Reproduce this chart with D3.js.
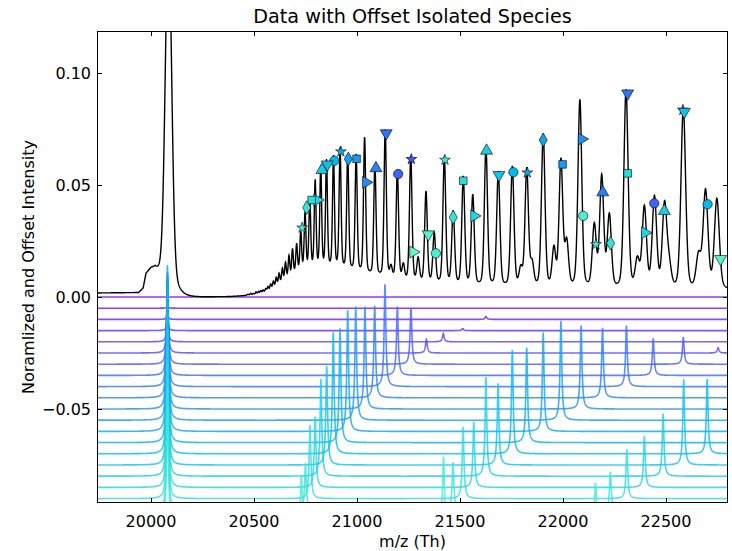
<!DOCTYPE html>
<html><head><meta charset="utf-8">
<script src="https://cdn.jsdelivr.net/npm/d3@7"></script>
<style>
body{margin:0;background:#fff}
text{font-family:"DejaVu Sans",sans-serif;fill:#000}
</style>
</head><body>
<svg id="chart" width="732" height="551"></svg>
<script>
// ---------------- data ----------------
const xTicks = [20000, 20500, 21000, 21500, 22000, 22500];
const yTicks = [0.10, 0.05, 0.00, -0.05];
const xDomain = [19738, 22801];
const yDomain = [-0.09196, 0.11875];

// baseline (valley level) of the measured spectrum: [m/z, intensity]
const dataBaseline = [
  [19738,0.0018],[19940,0.0020],[19962,0.0040],[19976,0.0105],[20000,0.0125],[20020,0.0120],
  [20045,0.0080],[20070,0.0040],[20110,0.0015],[20160,0.0005],[20250,0.0001],[20380,0.0002],
  [20450,0.0006],[20500,0.0010],[20540,0.0016],[20580,0.0030],[20620,0.0055],[20660,0.0080],
  [20700,0.0105],[20730,0.0120],[20760,0.0128],[20800,0.0130],[20900,0.0125],[20980,0.0110],
  [21050,0.0095],[21150,0.0078],[21250,0.0065],[21500,0.0045],[21800,0.0035],[22100,0.0030],
  [22400,0.0022],[22700,0.0022],[22801,0.0030]
];
// dominant off-scale peak near 20085
const bigPeak = [20085, 0.148];
const bigPeakWings = [20085, 0.008];
// measured spectrum peaks: [m/z, apex intensity]
const dataPeaks = [
  [20470,0.0012],[20484,0.0016],[20497,0.0015],[20510,0.0022],[20522,0.0024],[20533,0.0027],
  [20544,0.0030],[20557,0.0036],[20568,0.0045],[20581,0.0056],[20594,0.0068],[20608,0.0085],
  [20622,0.0103],[20638,0.0125],[20653,0.0150],[20670,0.0180],
  [20687,0.0210],[20707,0.0232],[20727,0.0286],[20748,0.0371],[20771,0.0433],[20797,0.0513],
  [20824,0.0576],[20852,0.0603],[20886,0.0621],[20918,0.0656],[20955,0.0629],[20996,0.0629],
  [21037,0.0705],[21087,0.0585],[21137,0.0741],[21165,0.0125],[21196,0.0558],[21225,0.0135],
  [21261,0.0625],[21297,0.0165],[21335,0.0466],[21375,0.0277],[21424,0.0619],[21467,0.0374],
  [21516,0.0530],[21562,0.0448],[21626,0.0664],[21686,0.0552],[21754,0.0575],[21795,0.0113],
  [21824,0.0564],[21850,0.0135],[21904,0.0719],[21956,0.0202],[21990,0.0600],[22018,0.0229],
  [22082,0.0872],[22152,0.0307],[22188,0.0525],[22225,0.0351],[22306,0.0917],[22361,0.0150],
  [22395,0.0388],[22444,0.0433],[22493,0.0396],[22515,0.0120],[22584,0.0838],[22658,0.0170],
  [22692,0.0464],[22747,0.0430]
];

// isolated species: vertical offsets and peaks [m/z, height]
const speciesOffsets = [0,-0.005,-0.010,-0.015,-0.020,-0.025,-0.030,-0.035,-0.040,-0.045,-0.050,
  -0.055,-0.060,-0.065,-0.070,-0.075,-0.080,-0.085,-0.090,-0.095,-0.100];
const speciesPeaks = [
  [],
  [[20080,0.0008]],
  [[20080,0.0020],[21626,0.0013]],
  [[20080,0.0050],[21513,0.0009]],
  [[20080,0.0120],[21419,0.0037]],
  [[20080,0.0240],[21337,0.0061],[22753,0.0024]],
  [[20080,0.0340],[21262,0.0250],[22584,0.0121]],
  [[20080,0.0420],[21196,0.0307],[22438,0.0165]],
  [[20080,0.0480],[21136,0.0457],[22308,0.0272]],
  [[20080,0.0550],[21086,0.0411],[22192,0.0313]],
  [[20080,0.0600],[21039,0.0457],[22088,0.0372]],
  [[20080,0.0660],[20994,0.0507],[21990,0.0444]],
  [[20080,0.0743],[20955,0.0542],[21904,0.0441]],
  [[20080,0.0700],[20918,0.0510],[21824,0.0424]],
  [[20080,0.0700],[20885,0.0542],[21754,0.0463],[22700,0.0334]],
  [[20080,0.0680],[20853,0.0443],[21685,0.0365],[22586,0.0383]],
  [[20080,0.0660],[20825,0.0434],[21626,0.0443],[22486,0.0280]],
  [[20080,0.0620],[20797,0.0316],[21567,0.0293],[22395,0.0230]],
  [[20080,0.0600],[20772,0.0329],[21515,0.0321],[22310,0.0220]],
  [[20080,0.0550],[20750,0.0208],[21466,0.0212],[22230,0.0170]],
  [[20080,0.0500],[20730,0.0205],[21420,0.0287],[22158,0.0170]]
];
// species markers on the data: [species index, m/z, intensity]
const speciesMarkers = [
  [6,21264,0.0615],[6,22582,0.0835],
  [7,21200,0.0549],[7,22443,0.0418],
  [8,21142,0.0731],[8,22314,0.0909],
  [9,21092,0.0575],[9,22193,0.0467],
  [10,21044,0.0512],[10,22091,0.0705],
  [11,20998,0.0617],[11,21998,0.0592],
  [12,20958,0.0616],[12,21904,0.0701],
  [13,20922,0.0649],[13,21827,0.0555],
  [14,20890,0.0608],[14,21759,0.0557],[14,22702,0.0414],
  [15,20856,0.0592],[15,21689,0.0545],[15,22589,0.0827],
  [16,20830,0.0567],[16,21629,0.0653],[16,22492,0.0384],
  [17,20807,0.0433],[17,21569,0.0362],[17,22398,0.0287],
  [18,20780,0.0433],[18,21516,0.0519],[18,22314,0.0552],
  [19,20756,0.0399],[19,21467,0.0356],[19,22231,0.0240],
  [20,20734,0.0309],[20,21427,0.0612],[20,22160,0.0235],
  [21,21383,0.0195],[21,22098,0.0362],
  [22,21346,0.0280],[22,22765,0.0170],
  [24,21273,0.0201]
];

// ---------------- rendering ----------------
const L = 97, R = 728, T = 31, B = 503;
const svg = d3.select("#chart");
const x = d3.scaleLinear().domain(xDomain).range([L, R]);
const y = d3.scaleLinear().domain(yDomain).range([B, T]);
const base = d3.scaleLinear().domain(dataBaseline.map(d => d[0])).range(dataBaseline.map(d => d[1])).clamp(true);
const grid = d3.range(xDomain[0], xDomain[1] + 0.5, 1);

function rainbow(t) { // matplotlib "rainbow" colormap
  const r = Math.abs(2 * t - 0.5), g = Math.sin(Math.PI * t), b = Math.cos(Math.PI * t / 2);
  return d3.rgb(255 * Math.min(1, r), 255 * Math.min(1, g), 255 * Math.min(1, b)).formatHex();
}
const color = k => rainbow(k / 54);
const gauss = (d, s) => Math.exp(-d * d / (2 * s * s));
const lor = (d, g) => 1 / (1 + (d / g) * (d / g));
const sig = mz => Math.max(3.4, 4.85 + (mz - 20920) * 0.0039);

const defs = svg.append("defs");
defs.append("clipPath").attr("id", "plot").append("rect")
  .attr("x", L).attr("y", T).attr("width", R - L).attr("height", B - T);
const plot = svg.append("g").attr("clip-path", "url(#plot)");
const line = d3.line().x(d => x(d[0])).y(d => y(d[1]));

// species traces
speciesPeaks.forEach((peaks, k) => {
  const off = speciesOffsets[k];
  const pts = grid.map(mz => [mz, off + d3.sum(peaks, p => p[1] * lor(mz - p[0], 5))]);
  plot.append("path").attr("d", line(pts)).attr("fill", "none")
    .attr("stroke", color(k)).attr("stroke-opacity", 0.8).attr("stroke-width", 1.6);
});

// measured data
const peakH = dataPeaks.map(p => [p[0], p[1] - base(p[0]), sig(p[0])]);
const dataPts = grid.map(mz => {
  let v = base(mz) + bigPeak[1] * gauss(mz - bigPeak[0], 15.5) + bigPeakWings[1] * gauss(mz - bigPeakWings[0], 40);
  for (const [c, h, s] of peakH) {
    const d = mz - c;
    if (Math.abs(d) < 250) v += h * (0.7 * gauss(d, s) + 0.3 * lor(d, s * 1.1774));
  }
  return [mz, v];
});
plot.append("path").attr("d", line(dataPts)).attr("fill", "none")
  .attr("stroke", "#000").attr("stroke-width", 1.4);

// markers
const shapes = [
  [d3.symbolCircle, 0, 68], [d3.symbolTriangle, 180, 62], [d3.symbolTriangle, 0, 62],
  [d3.symbolTriangle, 90, 62], [d3.symbolSquare, 0, 58], [d3.symbolDiamond, 0, 56], [d3.symbolStar, 0, 36]
];
plot.selectAll("path.mk").data(speciesMarkers).join("path").attr("class", "mk")
  .attr("d", d => d3.symbol().type(shapes[d[0] % 7][0]).size(shapes[d[0] % 7][2])())
  .attr("transform", d => `translate(${x(d[1])},${y(d[2])}) rotate(${shapes[d[0] % 7][1]})`)
  .attr("fill", d => color(d[0])).attr("stroke", "#000").attr("stroke-width", 0.6);

// frame and ticks
const ax = svg.append("g").attr("shape-rendering", "crispEdges");
ax.append("rect").attr("x", L + 0.5).attr("y", T + 0.5).attr("width", R - L - 1).attr("height", B - T - 1)
  .attr("fill", "none").attr("stroke", "#000").attr("stroke-width", 1);
xTicks.forEach(v => {
  const px = Math.round(x(v)) + 0.5;
  ax.append("line").attr("x1", px).attr("x2", px).attr("y1", B).attr("y2", B - 5).attr("stroke", "#000");
  ax.append("line").attr("x1", px).attr("x2", px).attr("y1", T).attr("y2", T + 5).attr("stroke", "#000");
});
yTicks.forEach(v => {
  const py = Math.round(y(v)) + 0.5;
  ax.append("line").attr("x1", L).attr("x2", L + 5).attr("y1", py).attr("y2", py).attr("stroke", "#000");
  ax.append("line").attr("x1", R).attr("x2", R - 5).attr("y1", py).attr("y2", py).attr("stroke", "#000");
});
const fx = d3.format("d"), fy = d3.format(".2f");
svg.append("g").selectAll("text").data(xTicks).join("text")
  .attr("x", d => x(d)).attr("y", 527).attr("text-anchor", "middle").attr("font-size", 16).text(d => fx(d));
svg.append("g").selectAll("text").data(yTicks).join("text")
  .attr("x", 91).attr("y", d => y(d) + 6).attr("text-anchor", "end").attr("font-size", 16).text(d => fy(d));

svg.append("text").attr("x", (L + R) / 2).attr("y", 23).attr("text-anchor", "middle")
  .attr("font-size", 19.2).text("Data with Offset Isolated Species");
svg.append("text").attr("x", (L + R) / 2).attr("y", 547).attr("text-anchor", "middle")
  .attr("font-size", 16).text("m/z (Th)");
svg.append("text").attr("transform", `translate(34,${(T + B) / 2}) rotate(-90)`).attr("text-anchor", "middle")
  .attr("font-size", 16).text("Noramlized and Offset Intensity");
</script>
</body></html>
